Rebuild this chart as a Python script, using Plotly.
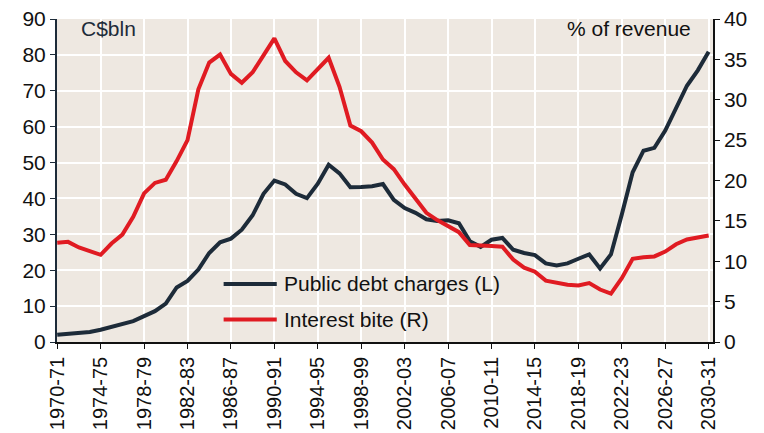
import plotly.graph_objects as go

years = [f"{y}-{(y + 1) % 100:02d}" for y in range(1970, 2031)]

public_debt_charges = [2.0, 2.3, 2.5, 2.8, 3.4, 4.2, 5.0, 5.8, 7.2, 8.6,
                       10.7, 15.2, 17.0, 20.2, 24.8, 27.8, 28.8, 31.3, 35.3, 41.3,
                       45.0, 43.9, 41.3, 40.1, 44.1, 49.4, 47.0, 43.1, 43.2, 43.4,
                       44.0, 39.6, 37.3, 36.0, 34.2, 33.7, 33.9, 33.1, 28.1, 26.5,
                       28.5, 29.0, 25.7, 24.8, 24.2, 21.9, 21.3, 21.9, 23.2, 24.4,
                       20.5, 24.4, 35.5, 47.3, 53.3, 54.1, 58.9, 65.4, 71.4, 75.7,
                       80.9]

interest_bite = [12.3, 12.4, 11.7, 11.2, 10.8, 12.2, 13.3, 15.5, 18.4, 19.7,
                 20.1, 22.4, 25.0, 31.3, 34.6, 35.6, 33.2, 32.1, 33.4, 35.5,
                 37.6, 34.8, 33.4, 32.4, 33.8, 35.2, 31.6, 26.8, 26.1, 24.7,
                 22.6, 21.4, 19.5, 17.7, 16.0, 15.1, 14.3, 13.6, 12.0, 12.0,
                 11.9, 11.8, 10.2, 9.2, 8.7, 7.6, 7.3, 7.1, 7.0, 7.3,
                 6.5, 6.0, 7.9, 10.3, 10.5, 10.6, 11.2, 12.1, 12.7, 12.9,
                 13.2]

tick_labels = years[::4]
left_ticks = list(range(0, 91, 10))
right_ticks = list(range(0, 41, 5))

NAVY = "#1d2b39"
RED = "#e01b22"
BG = "#eee8e1"
FONT = "Liberation Sans, Arial, sans-serif"

fig = go.Figure()
fig.add_trace(go.Scatter(x=years, y=public_debt_charges, mode="lines",
                         name="Public debt charges (L)",
                         line=dict(color=NAVY, width=4)))
fig.add_trace(go.Scatter(x=years, y=interest_bite, mode="lines",
                         name="Interest bite (R)", yaxis="y2",
                         line=dict(color=RED, width=4)))

fig.update_layout(
    width=764, height=433,
    margin=dict(l=57, r=51, t=19, b=91),
    paper_bgcolor="white",
    plot_bgcolor=BG,
    showlegend=False,
    font=dict(family=FONT, size=20, color="#111111"),
    xaxis=dict(type="category", categoryorder="array", categoryarray=years,
               range=[-0.02, 60.4], tickmode="array", tickvals=tick_labels,
               ticktext=tick_labels, tickangle=-90, automargin=False,
               showgrid=True, gridcolor="white", gridwidth=2,
               showline=True, linecolor="#111111", linewidth=1.5,
               ticks="outside", ticklen=5, tickcolor="#111111",
               tickfont=dict(size=20, color="#111111"), zeroline=False),
    yaxis=dict(range=[0, 90], tickmode="array", tickvals=left_ticks,
               automargin=False,
               showgrid=True, gridcolor="white", gridwidth=2,
               showline=True, linecolor=NAVY, linewidth=2,
               ticks="outside", ticklen=5, tickcolor=NAVY,
               tickfont=dict(size=21, color="#111111"), zeroline=False),
    yaxis2=dict(range=[0, 40], tickmode="array", tickvals=right_ticks,
                overlaying="y", side="right", showgrid=False, automargin=False,
                showline=True, linecolor="#111111", linewidth=1.5,
                ticks="outside", ticklen=5, tickcolor="#111111",
                tickfont=dict(size=21, color="#111111"), zeroline=False),
)

# in-plot legend drawn as shapes + text
legend_items = [("Public debt charges (L)", NAVY, 0.1796),
                ("Interest bite (R)", RED, 0.0697)]
for label, color, yp in legend_items:
    fig.add_shape(type="line", xref="paper", yref="paper",
                  x0=0.254, x1=0.335, y0=yp, y1=yp,
                  line=dict(color=color, width=4))
    fig.add_annotation(xref="paper", yref="paper", x=0.3425, y=yp,
                       xanchor="left", yanchor="middle", showarrow=False,
                       text=label, font=dict(size=21, color="#111111"))

fig.add_annotation(xref="paper", yref="paper", x=0.034, y=0.972,
                   xanchor="left", yanchor="middle", showarrow=False,
                   text="C$bln", font=dict(size=21, color=NAVY))
fig.add_annotation(xref="paper", yref="paper", x=0.9695, y=0.972,
                   xanchor="right", yanchor="middle", showarrow=False,
                   text="% of revenue", font=dict(size=21, color="#111111"))

fig.write_html("out.html")
